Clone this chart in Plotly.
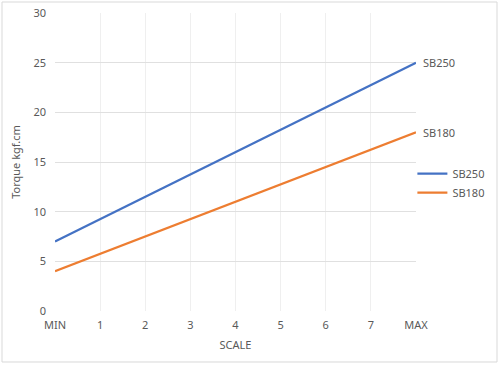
import plotly.graph_objects as go

categories = ["MIN", "1", "2", "3", "4", "5", "6", "7", "MAX"]
sb250 = [7, 9.25, 11.5, 13.75, 16, 18.25, 20.5, 22.75, 25]
sb180 = [4, 5.75, 7.5, 9.25, 11, 12.75, 14.5, 16.25, 18]
y_ticks = [0, 5, 10, 15, 20, 25, 30]

xpos = list(range(len(categories)))
font = dict(family="Noto Sans, Open Sans, sans-serif", size=11, color="#595959")

fig = go.Figure()
fig.add_trace(go.Scatter(x=xpos, y=sb250, mode="lines", name="SB250",
                         line=dict(color="#4472C4", width=2.25)))
fig.add_trace(go.Scatter(x=xpos, y=sb180, mode="lines", name="SB180",
                         line=dict(color="#ED7D31", width=2.25)))

for name, vals in (("SB250", sb250), ("SB180", sb180)):
    fig.add_annotation(x=xpos[-1], y=vals[-1], text=name, showarrow=False,
                       xanchor="left", yanchor="middle", xshift=5, font=font)

fig.add_shape(type="rect", xref="paper", yref="paper",
              x0=-0.1468, x1=1.2244, y0=-0.1711, y1=1.0369,
              line=dict(color="#D9D9D9", width=1), layer="below")

fig.update_layout(
    width=500, height=365, autosize=False,
    margin=dict(l=55, r=84, t=13, b=54, autoexpand=False),
    paper_bgcolor="white", plot_bgcolor="white",
    font=font,
    showlegend=True,
    legend=dict(x=0.99, y=0.51, xanchor="left", yanchor="top",
                font=font, itemwidth=30, tracegroupgap=0,
                bgcolor="rgba(0,0,0,0)"),
    xaxis=dict(range=[0, 8], tickmode="array", tickvals=xpos, ticktext=categories,
               showgrid=True, gridcolor="#EFEFEF", gridwidth=1,
               zeroline=False, showline=False, ticks="", ticklabelstandoff=6,
               title=dict(text="SCALE", font=font, standoff=10),
               tickfont=font, automargin=False),
    yaxis=dict(range=[0, 30], tickmode="array", tickvals=y_ticks,
               showgrid=True, gridcolor="#E0E0E0", gridwidth=1,
               zeroline=False, showline=False, ticks="", ticklabelstandoff=8,
               title=dict(text="Torque kgf.cm", font=font, standoff=10),
               tickfont=font, automargin=False),
)

fig.write_html(
    "out.html",
    config={"responsive": False, "displayModeBar": False},
    post_script=(
        "document.body.style.margin='0';"
        "document.body.style.overflow='hidden';"
    ),
)
